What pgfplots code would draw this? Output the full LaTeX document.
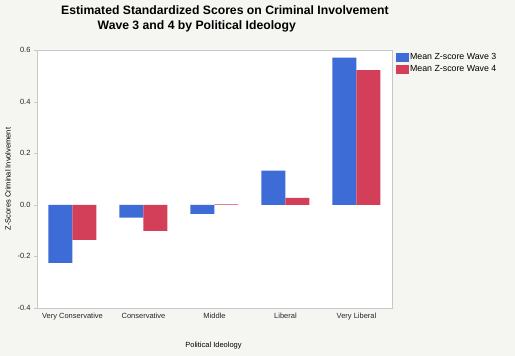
\documentclass[border=0pt]{standalone}
\usepackage{pgfplots}
\pgfplotsset{compat=1.18}
\usepackage{fontspec}
\setmainfont{Liberation Sans}
\definecolor{bg}{RGB}{245,245,242}
\definecolor{wthree}{RGB}{62,108,214}
\definecolor{wfour}{RGB}{211,62,88}
\definecolor{frame}{RGB}{200,200,200}
\begin{document}
\begin{tikzpicture}[x=1pt,y=1pt]
\useasboundingbox (0,0) rectangle (515,-356);
\fill[bg] (0,0) rectangle (515,-356);
\begin{axis}[
  at={(37pt,-308pt)}, anchor=south west,
  scale only axis, width=355pt, height=258pt,
  axis background/.style={fill=white},
  axis line style={frame},
  ybar=0pt, bar width=24pt,
  ymin=-0.4, ymax=0.6,
  ytick={-0.4,-0.2,0,0.2,0.4,0.6},
  yticklabel style={/pgf/number format/.cd, fixed, fixed zerofill, precision=1},
  /pgf/number format/assume math mode=true,
  xmin=-0.5, xmax=4.5,
  xtick={0,1,2,3,4},
  xticklabels={Very Conservative,Conservative,Middle,Liberal,Very Liberal},
  x tick style={draw=none},
  y tick style={frame},
  tick align=outside, major tick length=3pt,
  ytick pos=left,
  tick label style={font=\fontsize{7.5}{8.5}\selectfont, text=black!85},
  xticklabel style={yshift=1pt},
  legend style={at={(1.011,0.99)}, anchor=north west, draw=none, fill=none,
    font=\fontsize{8.8}{10}\selectfont, row sep=2pt, inner sep=0pt,
    nodes={inner sep=1pt}},
  legend image code/.code={\fill[#1] (-1pt,-4.5pt) rectangle (12pt,4.5pt);},
  legend cell align=left,
]
\addplot[fill=wthree, draw=none] coordinates {(0,-0.225) (1,-0.05) (2,-0.035) (3,0.132) (4,0.570)};
\addplot[fill=wfour, draw=none] coordinates {(0,-0.136) (1,-0.101) (2,0.002) (3,0.027) (4,0.522)};
\legend{Mean Z-score Wave 3, Mean Z-score Wave 4}
\end{axis}
\node[font=\bfseries\fontsize{12.2}{14}\selectfont, anchor=base west, inner sep=0pt] at (61,-14.5) {Estimated Standardized Scores on Criminal Involvement};
\node[font=\bfseries\fontsize{12.2}{14}\selectfont, anchor=base west, inner sep=0pt] at (97.5,-29.5) {Wave 3 and 4 by Political Ideology};
\node[font=\fontsize{7.5}{8.5}\selectfont, rotate=90] at (8,-179) {Z-Scores Criminal Involvement};
\node[font=\fontsize{7.5}{8.5}\selectfont] at (213.5,-346) {Political Ideology};
\end{tikzpicture}
\end{document}
